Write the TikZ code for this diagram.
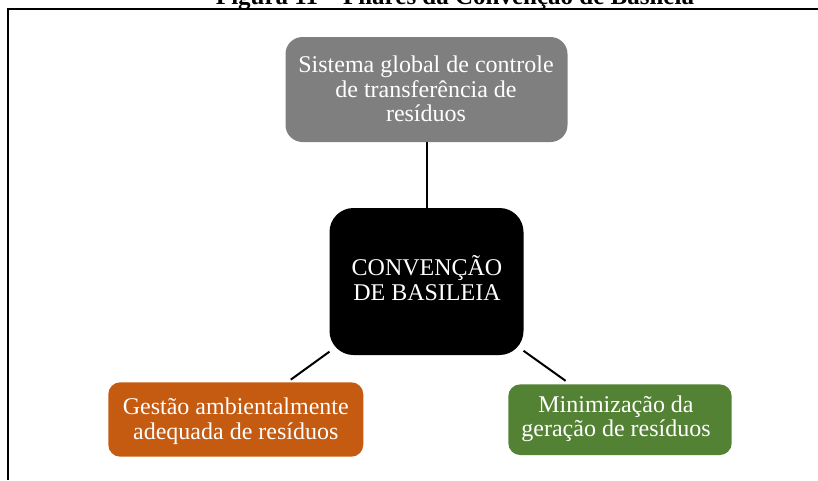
\documentclass[tikz,border=0pt]{standalone}
\usepackage{fontspec}
\setmainfont{Liberation Serif}
\definecolor{graybox}{HTML}{7F7F7F}
\definecolor{orangebox}{HTML}{C55A11}
\definecolor{greenbox}{HTML}{548235}
\begin{document}
\begin{tikzpicture}[x=1pt,y=-1pt,
  box/.style={inner sep=0pt, outer sep=0pt, draw=none},
  txt/.style={text=white, align=center, anchor=base, inner sep=0pt,
    font=\fontsize{24}{24.5}\selectfont},
  conn/.style={line width=2pt, black},
  frameline/.style={line width=2.2pt, black}]
\useasboundingbox (0,0) rectangle (818,480);
\clip (0,0) rectangle (818,480);
% title (cut off at top) and frame
\node[anchor=base, inner sep=0pt, font=\bfseries\fontsize{25}{30}\selectfont] (title) at (455,4.5) {Figura 11 – Pilares da Convenção de Basileia};
\coordinate (frTL) at (7.6,9);
\coordinate (frTR) at (818,9);
\coordinate (frBL) at (7.6,480);
\draw[frameline] ([xshift=-1pt]frTL) -- (frTR);
\draw[frameline, line width=2pt] (frTL) -- (frBL);
% boxes
\node[box, fill=graybox, rounded corners=17pt, minimum width=282pt, minimum height=105pt] (sis) at (426.5,89.5) {};
\node[box, fill=black, rounded corners=24pt, minimum width=194pt, minimum height=147pt] (ctr) at (426.5,281.5) {};
\node[box, fill=orangebox, rounded corners=12pt, minimum width=255pt, minimum height=74.4pt] (ges) at (235.8,419.5) {};
\node[box, fill=greenbox, rounded corners=12pt, minimum width=223.4pt, minimum height=70.7pt] (min) at (620,419.7) {};
% texts (base anchor = baseline of the last line)
\node[txt] (sist) at (426,121.7) {Sistema global de controle\\de transferência de\\resíduos};
\node[txt] (ctrt) at (427,300) {CONVENÇÃO\\DE BASILEIA};
\node[txt] (gest) at (235.8,439) {Gestão ambientalmente\\adequada de resíduos};
\node[txt] (mint) at (616,436.7) {Minimização da\\geração de resíduos};
% connectors
\draw[conn] (ctr) -- (sis);
\draw[conn, shorten >=4.5pt] (ctr) -- (ges);
\draw[conn, shorten >=6pt] (ctr) -- (min);
\end{tikzpicture}
\end{document}
